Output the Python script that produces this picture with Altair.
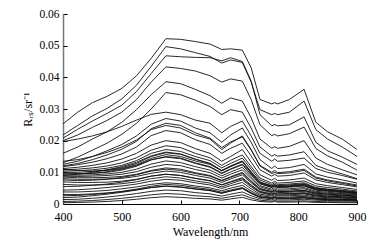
import altair as alt
import pandas as pd

wavelengths = [400, 425, 450, 475, 500, 525, 550, 575, 600, 625, 650, 670, 685,
               705, 720, 735, 755, 760, 765, 785, 810, 830, 850, 875, 900]

s01 = [.0253,.0290,.0320,.0340,.0365,.0405,.0460,.0522,.0520,.0513,.0505,.0488,.0490,.0486,.0430,.0330,.0316,.0320,.0316,.0330,.0362,.0258,.0228,.0205,.0172]
s02 = [.0218,.0248,.0278,.0302,.0332,.0375,.0435,.0497,.0490,.0478,.0466,.0445,.0455,.0447,.0385,.0298,.0282,.0286,.0282,.0290,.0325,.0235,.0205,.0180,.0150]
s03 = [.0208,.0236,.0262,.0286,.0312,.0355,.0412,.0468,.0465,.0463,.0462,.0452,.0462,.0450,.0388,.0282,.0247,.0251,.0247,.0250,.0275,.0195,.0168,.0148,.0125]
s04 = [.0200,.0218,.0242,.0264,.0290,.0330,.0385,.0433,.0428,.0420,.0405,.0385,.0395,.0388,.0330,.0250,.0216,.0220,.0215,.0222,.0243,.0175,.0152,.0132,.0107]
s05 = [.0160,.0180,.0205,.0228,.0258,.0298,.0345,.0386,.0380,.0362,.0342,.0318,.0335,.0325,.0272,.0205,.0176,.0181,.0176,.0182,.0200,.0145,.0125,.0108,.0092]
s06 = [.0130,.0148,.0170,.0192,.0220,.0255,.0300,.0352,.0345,.0328,.0308,.0282,.0298,.0290,.0240,.0180,.0151,.0156,.0151,.0155,.0165,.0122,.0108,.0095,.0080]
s07 = [.0197,.0205,.0215,.0228,.0245,.0265,.0283,.0290,.0282,.0265,.0255,.0225,.0245,.0262,.0215,.0160,.0135,.0142,.0135,.0138,.0145,.0112,.0100,.0090,.0078]
s08 = [.0125,.0135,.0150,.0168,.0188,.0215,.0252,.0270,.0262,.0240,.0225,.0195,.0218,.0240,.0195,.0140,.0112,.0120,.0112,.0115,.0125,.0095,.0085,.0076,.0066]
s09 = [.0120,.0128,.0140,.0155,.0173,.0198,.0238,.0255,.0248,.0225,.0208,.0178,.0196,.0212,.0170,.0122,.0100,.0106,.0099,.0102,.0110,.0085,.0076,.0068,.0060]
s10 = [.0118,.0124,.0132,.0143,.0158,.0180,.0216,.0232,.0225,.0203,.0188,.0160,.0176,.0192,.0152,.0108,.0088,.0094,.0088,.0090,.0098,.0076,.0068,.0061,.0054]
s11 = [.0112,.0116,.0122,.0130,.0142,.0160,.0186,.0200,.0194,.0175,.0160,.0135,.0150,.0172,.0132,.0092,.0075,.0081,.0074,.0076,.0082,.0064,.0058,.0052,.0046]
s12 = [.0108,.0110,.0114,.0120,.0130,.0146,.0170,.0184,.0178,.0160,.0146,.0122,.0138,.0155,.0118,.0082,.0066,.0072,.0066,.0068,.0073,.0057,.0052,.0047,.0041]
s13 = [.0104,.0105,.0108,.0113,.0122,.0137,.0160,.0172,.0166,.0150,.0137,.0114,.0128,.0145,.0110,.0076,.0061,.0067,.0061,.0063,.0067,.0052,.0047,.0043,.0038]
s14 = [.0100,.0100,.0103,.0107,.0115,.0128,.0150,.0162,.0157,.0141,.0128,.0106,.0120,.0136,.0102,.0070,.0056,.0062,.0056,.0058,.0062,.0048,.0044,.0040,.0035]
s15 = [.0095,.0095,.0097,.0100,.0107,.0119,.0139,.0150,.0145,.0130,.0118,.0098,.0111,.0126,.0094,.0064,.0052,.0058,.0052,.0053,.0057,.0044,.0040,.0036,.0032]
s16 = [.0092,.0091,.0092,.0095,.0100,.0110,.0126,.0136,.0131,.0118,.0107,.0089,.0101,.0116,.0086,.0058,.0047,.0053,.0047,.0048,.0052,.0040,.0037,.0033,.0030]
s17 = [.0088,.0087,.0088,.0090,.0094,.0102,.0116,.0125,.0121,.0109,.0099,.0082,.0094,.0108,.0080,.0054,.0043,.0048,.0043,.0044,.0048,.0037,.0034,.0031,.0028]
s18 = [.0085,.0083,.0083,.0084,.0087,.0094,.0106,.0114,.0110,.0099,.0090,.0075,.0086,.0100,.0073,.0049,.0039,.0044,.0039,.0040,.0043,.0034,.0031,.0028,.0025]
s19 = [.0080,.0078,.0078,.0079,.0081,.0087,.0097,.0104,.0100,.0090,.0082,.0068,.0079,.0092,.0067,.0045,.0036,.0040,.0036,.0037,.0040,.0031,.0028,.0026,.0023]
s20 = [.0070,.0068,.0068,.0069,.0072,.0078,.0088,.0094,.0090,.0081,.0074,.0061,.0071,.0083,.0060,.0040,.0032,.0036,.0032,.0033,.0036,.0028,.0025,.0023,.0021]
s21 = [.0062,.0060,.0060,.0061,.0064,.0070,.0080,.0086,.0082,.0073,.0066,.0054,.0064,.0076,.0054,.0036,.0028,.0032,.0028,.0029,.0032,.0025,.0022,.0020,.0018]
s22 = [.0044,.0045,.0048,.0052,.0057,.0063,.0072,.0078,.0075,.0067,.0060,.0049,.0058,.0068,.0048,.0031,.0025,.0029,.0025,.0026,.0028,.0022,.0020,.0018,.0016]
s23 = [.0038,.0038,.0040,.0043,.0048,.0054,.0062,.0067,.0064,.0057,.0051,.0042,.0050,.0059,.0041,.0027,.0021,.0025,.0021,.0022,.0024,.0019,.0017,.0015,.0014]
s24 = [.0030,.0030,.0032,.0035,.0039,.0045,.0052,.0056,.0053,.0047,.0042,.0034,.0041,.0049,.0034,.0022,.0018,.0021,.0018,.0018,.0020,.0016,.0014,.0013,.0012]
s25 = [.0014,.0015,.0018,.0022,.0027,.0033,.0040,.0044,.0042,.0036,.0032,.0025,.0031,.0038,.0026,.0017,.0013,.0016,.0013,.0013,.0015,.0012,.0011,.0010,.0009]
s26 = [.0008,.0009,.0011,.0014,.0018,.0023,.0029,.0033,.0031,.0026,.0023,.0018,.0023,.0029,.0019,.0012,.0009,.0011,.0009,.0009,.0010,.0008,.0007,.0007,.0006]
s27 = [.0004,.0005,.0006,.0008,.0011,.0015,.0020,.0023,.0021,.0018,.0016,.0012,.0016,.0021,.0013,.0008,.0006,.0008,.0006,.0006,.0007,.0005,.0005,.0004,.0004]
s28 = [.0110,.0106,.0104,.0106,.0112,.0124,.0144,.0156,.0150,.0136,.0125,.0105,.0118,.0134,.0100,.0068,.0058,.0061,.0058,.0060,.0064,.0050,.0046,.0042,.0037]
s29 = [.0098,.0096,.0097,.0102,.0110,.0122,.0140,.0148,.0143,.0128,.0116,.0096,.0109,.0124,.0092,.0064,.0053,.0056,.0053,.0055,.0058,.0045,.0042,.0038,.0034]
s30 = [.0090,.0094,.0100,.0108,.0118,.0132,.0152,.0164,.0158,.0142,.0128,.0105,.0119,.0134,.0098,.0067,.0055,.0058,.0055,.0056,.0060,.0047,.0043,.0039,.0035]
s31 = [.0076,.0074,.0075,.0078,.0084,.0092,.0104,.0110,.0106,.0096,.0088,.0073,.0084,.0097,.0071,.0047,.0039,.0042,.0039,.0040,.0043,.0034,.0031,.0028,.0025]
s32 = [.0055,.0056,.0059,.0063,.0069,.0077,.0088,.0094,.0090,.0081,.0073,.0060,.0069,.0080,.0058,.0038,.0031,.0034,.0031,.0032,.0034,.0027,.0024,.0022,.0020]
s33 = [.0026,.0027,.0030,.0034,.0040,.0047,.0056,.0062,.0059,.0052,.0046,.0037,.0044,.0052,.0036,.0023,.0019,.0021,.0019,.0019,.0021,.0017,.0015,.0014,.0013]
s34 = [.0020,.0022,.0026,.0031,.0037,.0044,.0052,.0057,.0054,.0048,.0043,.0034,.0041,.0049,.0033,.0021,.0017,.0019,.0017,.0017,.0019,.0015,.0013,.0012,.0011]
s35 = [.0135,.0140,.0150,.0163,.0180,.0202,.0235,.0248,.0240,.0218,.0205,.0172,.0192,.0215,.0172,.0120,.0096,.0100,.0096,.0098,.0106,.0082,.0073,.0065,.0057]

spectra = [s01, s02, s03, s04, s05, s06, s07, s08, s09, s10, s11, s12, s13, s14,
           s15, s16, s17, s18, s19, s20, s21, s22, s23, s24, s25, s26, s27,
           s28, s29, s30, s31, s32, s33, s34, s35]

y_ticks = [0, 0.01, 0.02, 0.03, 0.04, 0.05, 0.06]
x_ticks = [400, 500, 600, 700, 800, 900]

rows = []
for i, s in enumerate(spectra):
    for w, v in zip(wavelengths, s):
        rows.append({"id": i, "w": w, "r": v})
df = pd.DataFrame(rows)

FONT = "Liberation Serif"
xs = alt.Scale(domain=[400, 900], nice=False, zero=False)
ys = alt.Scale(domain=[0, 0.06], nice=False)

lines = alt.Chart(df).mark_line(color="#111111", strokeWidth=0.9).encode(
    x=alt.X("w:Q", scale=xs, axis=alt.Axis(
        values=x_ticks, ticks=False, grid=False, title="Wavelength/nm",
        labelFlush=False, labelOverlap=False,
        labelFont=FONT, labelFontSize=12, labelColor="#000", labelPadding=7,
        titleFont=FONT, titleFontSize=12, titleFontWeight="normal", titleColor="#000",
        titlePadding=4, domainColor="#000", domainWidth=1)),
    y=alt.Y("r:Q", scale=ys, axis=alt.Axis(
        values=y_ticks, ticks=False, grid=False, title="Rᵣₛ/sr⁻¹",
        labelFlush=False, labelOverlap=False,
        labelExpr="datum.value == 0 ? '0' : format(datum.value, '.2f')",
        labelFont=FONT, labelFontSize=11.5, labelColor="#000", labelPadding=4,
        titleFont=FONT, titleFontSize=12, titleFontWeight="normal", titleColor="#000",
        titlePadding=4, domainColor="#777", domainWidth=1.5)),
    detail="id:N",
)

tick_layer = alt.Chart(df).mark_line(opacity=0).encode(
    x=alt.X("w:Q", scale=xs, axis=alt.Axis(
        orient="top", offset=-190, values=x_ticks, labels=False, domain=False,
        grid=False, title=None, tickSize=4, tickColor="#000", tickWidth=1)),
    y=alt.Y("r:Q", scale=ys, axis=alt.Axis(
        orient="right", offset=-294, values=y_ticks, labels=False, domain=False,
        grid=False, title=None, tickSize=4, tickColor="#000", tickWidth=1)),
    detail="id:N",
)

chart = alt.layer(lines, tick_layer).resolve_axis(
    x="independent", y="independent"
).properties(
    width=294, height=190,
    autosize=alt.AutoSizeParams(type="none"),
    padding={"left": 63, "top": 14, "right": 27, "bottom": 40},
    background="white",
).configure_view(stroke=None)

chart.save("out.html", embed_options={"renderer": "svg", "actions": False})
